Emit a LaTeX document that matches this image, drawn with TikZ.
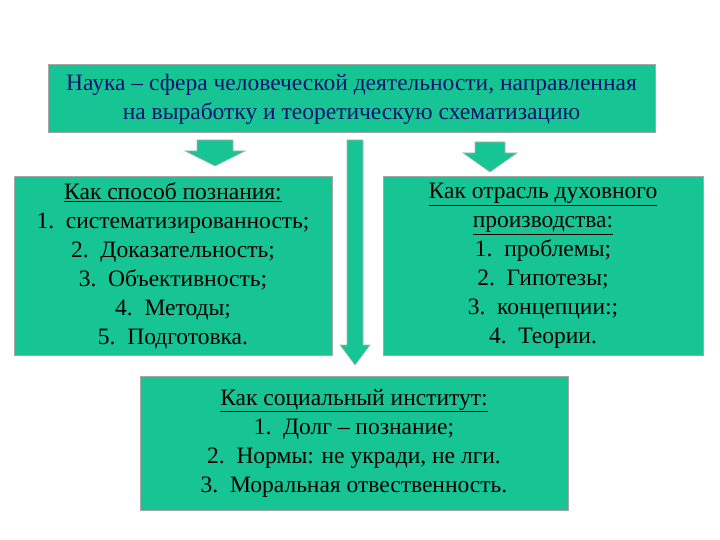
\documentclass[tikz,border=0pt]{standalone}
\usepackage{fontspec}
\setmainfont{Liberation Serif}
\newcommand{\myul}[1]{\underline{#1}}
\begin{document}
\begin{tikzpicture}[x=1pt,y=-1pt,
  box/.style={draw=gray!70,line width=1pt,fill=boxc,align=center,inner sep=0pt,font=\fontsize{23.5}{29}\selectfont},
  arr/.style={draw=gray!60,line width=0.6pt,fill=boxc}]
\definecolor{boxc}{RGB}{22,196,148}
\definecolor{navy}{RGB}{10,20,110}
\useasboundingbox (0,0) rectangle (720,540);
\node[box,minimum width=607pt,minimum height=68pt,text=navy] (top) at (351.5,99)
 {Наука – сфера человеческой деятельности, направленная\\на выработку и теоретическую схематизацию};
\node[box,minimum width=318pt,minimum height=178pt] (l) at (173,266)
 {\myul{Как способ познания:}\\1.\ \ систематизированность;\\2.\ \ Доказательность;\\3.\ \ Объективность;\\4.\ \ Методы;\\5.\ \ Подготовка.};
\node[box,minimum width=320pt,minimum height=178pt] (r) at (543,266)
 {\myul{Как отрасль духовного}\\\myul{производства:}\\1.\ \ проблемы;\\2.\ \ Гипотезы;\\3.\ \ концепции:;\\4.\ \ Теории.};
\node[box,minimum width=428pt,minimum height=134pt] (b) at (354,443)
 {\myul{Как социальный институт:}\\1.\ \ Долг – познание;\\2.\ \ Нормы: не укради, не лги.\\3.\ \ Моральная отвественность.};
\draw[arr] (197,140) -- (233,140) -- (233,151) -- (245,151) -- (215,166) -- (185,151) -- (197,151) -- cycle;
\draw[arr] (475,142) -- (505,142) -- (505,153) -- (517,153) -- (490,172) -- (463,153) -- (475,153) -- cycle;
\draw[arr] (347,140) -- (363,140) -- (363,345) -- (370,345) -- (355,365) -- (340,345) -- (347,345) -- cycle;
\end{tikzpicture}
\end{document}
